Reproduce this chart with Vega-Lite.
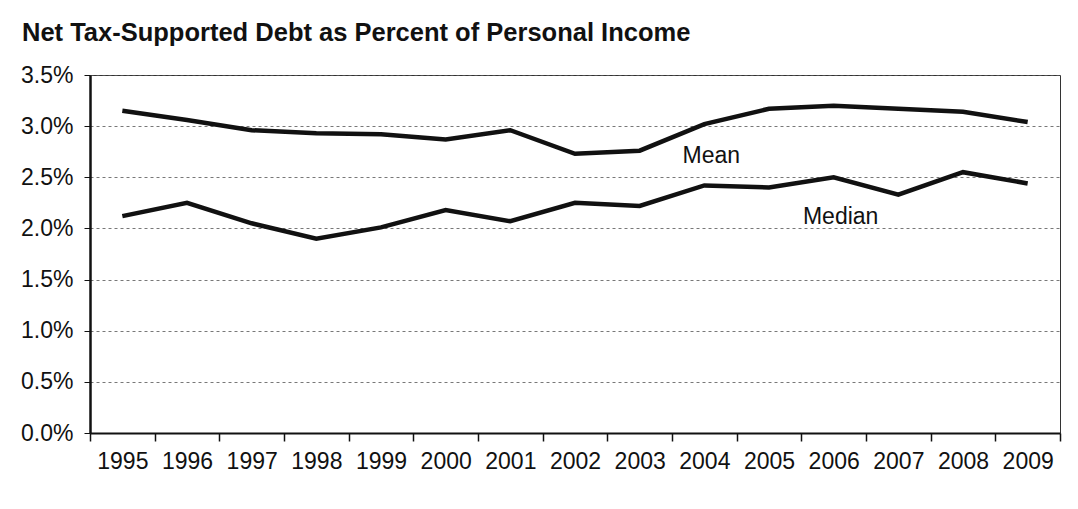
{
  "$schema": "https://vega.github.io/schema/vega-lite/v6.json",
  "width": 970,
  "height": 358,
  "autosize": {"type": "none"},
  "padding": {"left": 90, "top": 75, "right": 18, "bottom": 76},
  "background": "white",
  "config": {
    "font": "Liberation Sans",
    "view": {"stroke": "#333", "strokeWidth": 1}
  },
  "title": {
    "text": "Net Tax-Supported Debt as Percent of Personal Income",
    "anchor": "start",
    "frame": "group",
    "dx": -68,
    "offset": 18,
    "fontSize": 25.5,
    "fontWeight": "bold",
    "font": "Liberation Sans",
    "color": "#111"
  },
  "datasets": {
    "series": [
      {"year": "1995", "series": "Mean", "value": 3.15},
      {"year": "1996", "series": "Mean", "value": 3.06},
      {"year": "1997", "series": "Mean", "value": 2.96},
      {"year": "1998", "series": "Mean", "value": 2.93},
      {"year": "1999", "series": "Mean", "value": 2.92},
      {"year": "2000", "series": "Mean", "value": 2.87},
      {"year": "2001", "series": "Mean", "value": 2.96},
      {"year": "2002", "series": "Mean", "value": 2.73},
      {"year": "2003", "series": "Mean", "value": 2.76},
      {"year": "2004", "series": "Mean", "value": 3.02},
      {"year": "2005", "series": "Mean", "value": 3.17},
      {"year": "2006", "series": "Mean", "value": 3.2},
      {"year": "2007", "series": "Mean", "value": 3.17},
      {"year": "2008", "series": "Mean", "value": 3.14},
      {"year": "2009", "series": "Mean", "value": 3.04},
      {"year": "1995", "series": "Median", "value": 2.12},
      {"year": "1996", "series": "Median", "value": 2.25},
      {"year": "1997", "series": "Median", "value": 2.05},
      {"year": "1998", "series": "Median", "value": 1.9},
      {"year": "1999", "series": "Median", "value": 2.01},
      {"year": "2000", "series": "Median", "value": 2.18},
      {"year": "2001", "series": "Median", "value": 2.07},
      {"year": "2002", "series": "Median", "value": 2.25},
      {"year": "2003", "series": "Median", "value": 2.22},
      {"year": "2004", "series": "Median", "value": 2.42},
      {"year": "2005", "series": "Median", "value": 2.4},
      {"year": "2006", "series": "Median", "value": 2.5},
      {"year": "2007", "series": "Median", "value": 2.33},
      {"year": "2008", "series": "Median", "value": 2.55},
      {"year": "2009", "series": "Median", "value": 2.44}
    ],
    "labels": [
      {"year": "2004", "value": 2.71, "text": "Mean"},
      {"year": "2006", "value": 2.11, "text": "Median"}
    ]
  },
  "layer": [
    {
      "data": {"name": "series"},
      "mark": {"type": "line", "color": "#111", "strokeWidth": 4.5, "strokeJoin": "miter"},
      "encoding": {
        "x": {
          "field": "year",
          "type": "ordinal",
          "bandPosition": 0.5,
          "scale": {"type": "band", "paddingInner": 0, "paddingOuter": 0},
          "axis": {
            "title": null,
            "labelAngle": 0,
            "labelFontSize": 23,
            "labelColor": "#111",
            "labelPadding": 9,
            "tickBand": "extent",
            "tickSize": 8,
            "tickColor": "#111",
            "tickWidth": 1.5,
            "domainColor": "#111",
            "domainWidth": 2,
            "grid": false
          }
        },
        "y": {
          "field": "value",
          "type": "quantitative",
          "scale": {"domain": [0, 3.5], "nice": false},
          "axis": {
            "title": null,
            "values": [0, 0.5, 1, 1.5, 2, 2.5, 3, 3.5],
            "labelExpr": "format(datum.value, '.1f') + '%'",
            "labelFontSize": 23,
            "labelColor": "#111",
            "labelPadding": 11,
            "tickSize": 6,
            "tickColor": "#111",
            "domainColor": "#111",
            "domainWidth": 2.5,
            "grid": true,
            "gridColor": "#555",
            "gridDash": [3, 3],
            "gridWidth": 0.8
          }
        },
        "detail": {"field": "series"}
      }
    },
    {
      "data": {"name": "labels"},
      "mark": {"type": "text", "fontSize": 23, "color": "#111", "font": "Liberation Sans", "dx": 7},
      "encoding": {
        "x": {"field": "year", "type": "ordinal", "bandPosition": 0.5},
        "y": {"field": "value", "type": "quantitative"},
        "text": {"field": "text"}
      }
    }
  ]
}
